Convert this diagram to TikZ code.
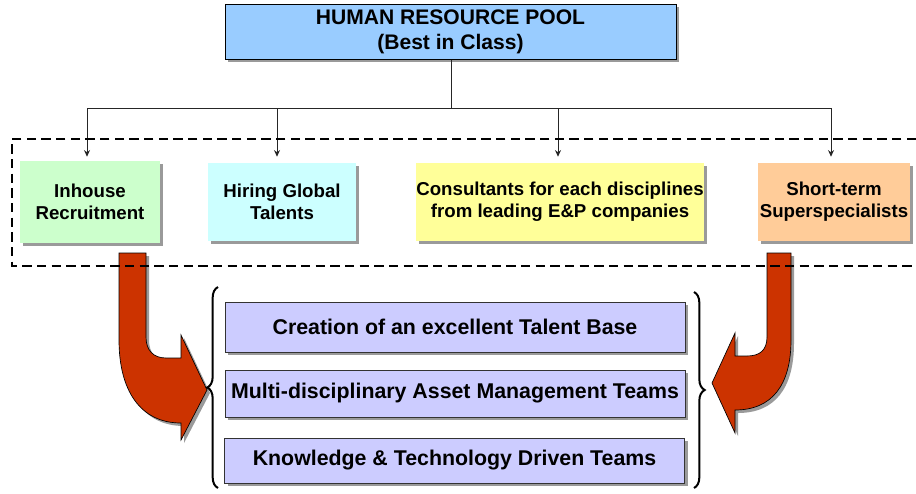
\documentclass[tikz,border=0pt]{standalone}
\usepackage{fontspec}
\setmainfont{Liberation Sans}
\usetikzlibrary{shadows,decorations.pathreplacing,arrows.meta}
\definecolor{topblue}{HTML}{99CCFF}
\definecolor{cgreen}{HTML}{CCFFCC}
\definecolor{ccyan}{HTML}{CCFFFF}
\definecolor{cyellow}{HTML}{FFFF99}
\definecolor{corange}{HTML}{FFCC99}
\definecolor{clav}{HTML}{CCCCFF}
\definecolor{cred}{HTML}{CC3300}
\definecolor{shade}{HTML}{9A9A9A}
\tikzset{
  sh/.style={general shadow={fill=shade, shadow xshift=2.25pt, shadow yshift=-2.25pt}},
  basebox/.style={sh, rectangle, inner sep=0pt, align=center,
    font=\fontsize{14}{16.3}\selectfont\bfseries},
  srcbox/.style={basebox, minimum height=58.5pt},
  resbox/.style={basebox, fill=clav, draw=black!80, line width=0.6pt, minimum width=345pt,
    font=\fontsize{16}{18}\selectfont\bfseries},
  conn/.style={draw=black!85, line width=0.75pt},
  arr/.style={conn, -{Stealth[length=5pt,width=4.5pt]}},
  bigarrow/.style={sh, fill=cred, draw=black, line width=0.5pt},
  dashline/.style={draw=black, line width=1.5pt, dash pattern=on 7pt off 4pt},
  bracestyle/.style={draw=black, line width=1.5pt, decorate,
    decoration={brace, amplitude=8pt}},
}
\begin{document}
\begin{tikzpicture}[x=0.75pt, y=-0.75pt]
\useasboundingbox (0,0) rectangle (916,493);

% top box
\node[basebox, fill=topblue, draw=black, line width=0.75pt,
      minimum width=338.25pt, minimum height=41.25pt,
      font=\fontsize{15.8}{19}\selectfont\bfseries] (top) at (450.5,31.5)
  {HUMAN RESOURCE POOL\\(Best in Class)};

% source boxes
\node[srcbox, fill=cgreen, minimum width=105pt, minimum height=61.5pt] (inh) at (90,202) {Inhouse\\Recruitment};
\node[srcbox, fill=ccyan, minimum width=111pt] (hir) at (282,202) {Hiring Global\\Talents};
\node[srcbox, fill=cyellow, minimum width=214.5pt] (con) at (560,202) {Consultants for each disciplines\\from leading E\&P companies};
\node[srcbox, fill=corange, minimum width=114pt] (sho) at (834,202) {Short-term\\Superspecialists};

% result boxes
\node[resbox, minimum height=37.5pt] (r1) at (455,327) {Creation of an excellent Talent Base};
\node[resbox, minimum height=35.25pt] (r2) at (455,393.5) {Multi-disciplinary Asset Management Teams};
\node[resbox, minimum height=33.75pt] (r3) at (454.5,460.5) {Knowledge \& Technology Driven Teams};

% connectors
\coordinate (j0) at (451,108);
\coordinate (j1) at (87,108);
\coordinate (j2) at (277,108);
\coordinate (j3) at (558,108);
\coordinate (j4) at (831,108);
\draw[conn] (top.south -| j0) -- (j0);
\draw[conn] (j1) -- (j4);
\draw[arr] (j1) -- ([yshift=3pt]j1 |- inh.north);
\draw[arr] (j2) -- ([yshift=4.5pt]j2 |- hir.north);
\draw[arr] (j3) -- ([yshift=4.5pt]j3 |- con.north);
\draw[arr] (j4) -- ([yshift=4.5pt]j4 |- sho.north);

% big red arrows
\path[bigarrow] (119,253) -- (146,253) -- (146,337)
  .. controls (146,350) and (153,358) .. (166,358) -- (181,358) -- (181,335)
  -- (207,390) -- (181,440) -- (181,423)
  .. controls (140,423) and (119,390) .. (119,340) -- cycle;
\path[bigarrow] (767,253) -- (791,253) -- (791,340)
  .. controls (791,385) and (772,410) .. (735,410) -- (735,433)
  -- (712,383) -- (735,333) -- (735,356) -- (747,356)
  .. controls (760,356) and (767,350) .. (767,337) -- cycle;

% dashed frame (open to the right edge)
\draw[dashline] (916,139) -- (12,139) -- (12,266) -- (916,266);

% braces
\draw[bracestyle] (218,488) -- (218,287);
\draw[bracestyle] (694,292) -- (694,488);
\end{tikzpicture}
\end{document}
